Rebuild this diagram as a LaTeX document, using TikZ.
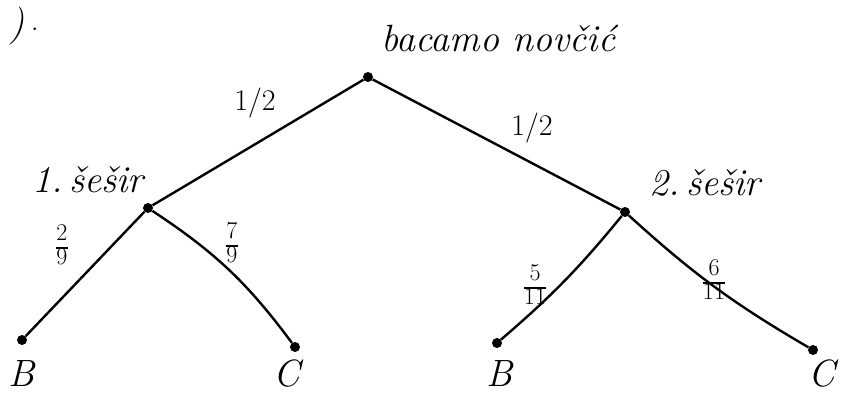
\documentclass[tikz,border=0pt]{standalone}
\usepackage{tikz}
\usetikzlibrary{positioning}
\newcommand{\frc}[2]{{\fontsize{24}{24}\selectfont\setlength{\arrayrulewidth}{1.6pt}%
  \renewcommand{\arraystretch}{0.9}\begin{tabular}{@{}c@{}}#1\\\hline #2\end{tabular}}}
\begin{document}
\begin{tikzpicture}[x=1pt, y=-1pt,
    dot/.style={circle, fill=black, inner sep=0pt, minimum size=10pt},
    lbl/.style={font=\fontsize{38}{42}\selectfont\itshape},
    half/.style={font=\fontsize{30}{32}\selectfont},
    prob/.style={inner sep=0pt},
    line/.style={draw, line width=2.4pt}]
    \useasboundingbox (0,0) rectangle (845,399);

    \node [dot] (root) at (368,77) {};
    \node [dot] (h1) at (148,208) {};
    \node [dot] (h2) at (625,212) {};
    \node [dot] (b1) at (22,340) {};
    \node [dot] (c1) at (295,347) {};
    \node [dot] (b2) at (497,343) {};
    \node [dot] (c2) at (813,350) {};

    \node [lbl] (task) at (24,26) {)\,$\cdot$};
    \node [lbl, anchor=west] (coin) at (378,38) {bacamo novčić};
    \node [lbl] (hat1) at (88,180) {1.\,šešir};
    \node [lbl] (hat2) at (705,183) {2.\,šešir};
    \node [lbl] (lb1) at (22,374) {B};
    \node [lbl] (lc1) at (287,374) {C};
    \node [lbl] (lb2) at (500,374) {B};
    \node [lbl] (lc2) at (822,374) {C};

    \node [half] (p1) at (255,103) {1/2};
    \node [half] (p2) at (532,128) {1/2};
    \node [prob] (p3) at (62,248) {\frc{2}{9}};
    \node [prob] (p4) at (232,246) {\frc{7}{9}};
    \node [prob] (p5) at (535,288) {\frc{5}{11}};
    \node [prob] (p6) at (714,283) {\frc{6}{11}};

    \path [line] (root) -- (h1);
    \path [line] (root) -- (h2);
    \path [line] (h1) -- (b1);
    \path [line] (h1) to[bend left=10] (c1);
    \path [line] (h2) to[bend left=5] (b2);
    \path [line] (h2) to[bend right=6] (c2);
\end{tikzpicture}
\end{document}
